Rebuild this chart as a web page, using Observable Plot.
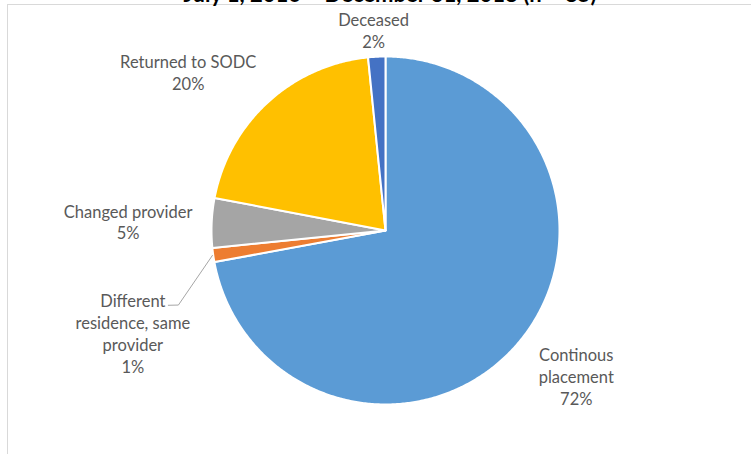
<!DOCTYPE html>
<html>
<head>
<meta charset="utf-8">
<script src="https://cdn.jsdelivr.net/npm/d3@7"></script>
<script src="https://cdn.jsdelivr.net/npm/@observablehq/plot@0.6"></script>
<style>
  html, body { margin: 0; padding: 0; background: #fff; }
  #wrap { position: relative; width: 751px; height: 454px; overflow: hidden; background: #fff; }
  #title { position: absolute; left: 0; width: 780px; top: -18px; text-align: center;
           font: bold 22px Lato, sans-serif; line-height: 24px; color: #000; white-space: nowrap; z-index: 2; }
  #frame { position: absolute; left: 7px; top: 4px; width: 760px; height: 460px;
           border-left: 1px solid #d9d9d9; border-top: 1px solid #d9d9d9; pointer-events: none; z-index: 1; }
  #chart { position: absolute; left: 0; top: 0; }
</style>
</head>
<body>
<div id="wrap">
  <div id="chart"></div>
  <div id="frame"></div>
  <div id="title">July 1, 2016 – December 31, 2018 (n = 85)</div>
</div>
<script>
// ---- data ----
const categories = ["Continous placement", "Different residence, same provider", "Changed provider", "Returned to SODC", "Deceased"];
const values = [72.1, 1.3, 4.6, 20.4, 1.6];
const labelNames = ["Continous\nplacement", "Different\nresidence, same\nprovider", "Changed provider", "Returned to SODC", "Deceased"];
const pctLabels = ["72%", "1%", "5%", "20%", "2%"];
const colors = ["#5B9BD5", "#ED7D31", "#A5A5A5", "#FFC000", "#4472C4"];

// ---- layout ----
const W = 751, H = 454, CX = 385, CY = 230, R = 174;
// label anchors in polar pie units: [angle deg clockwise from top, radius factor]
const labelPolar = [[127.4, 1.38], [248, 1.566], [272, 1.48], [308.8, 1.455], [356.6, 1.155]];
const leaderPolar = [[251, 1.32], [250.2, 1.265], [261.8, 1.005]];

const polar = ([deg, r]) => ({x: r * Math.sin(deg * Math.PI / 180), y: r * Math.cos(deg * Math.PI / 180)});

const total = d3.sum(values);
let cum = 0;
const pts = values.flatMap((c, i) => {
  const a0 = cum / total * 2 * Math.PI; cum += c; const a1 = cum / total * 2 * Math.PI;
  const n = Math.max(2, Math.ceil((a1 - a0) / (Math.PI / 360)));
  const arr = [{cat: categories[i], x: 0, y: 0}];
  for (let k = 0; k <= n; k++) {
    const a = a0 + (a1 - a0) * k / n;
    arr.push({cat: categories[i], x: Math.sin(a), y: Math.cos(a)});
  }
  return arr;
});

const labels = categories.map((c, i) => ({...polar(labelPolar[i]), text: labelNames[i] + "\n" + pctLabels[i]}));
const leader = leaderPolar.map(polar);

const chart = Plot.plot({
  width: W, height: H, margin: 0,
  style: {background: "transparent"},
  x: {domain: [-CX / R, (W - CX) / R], range: [0, W], axis: null},
  y: {domain: [(CY - H) / R, CY / R], range: [H, 0], axis: null},
  color: {domain: categories, range: colors},
  marks: [
    Plot.line(pts, {x: "x", y: "y", z: "cat", fill: "cat", stroke: "white", strokeWidth: 2, curve: "linear-closed"}),
    Plot.line(leader, {x: "x", y: "y", stroke: "#a6a6a6", strokeWidth: 1, curve: "linear"}),
    Plot.text(labels, {x: "x", y: "y", text: "text", fill: "#595959", fontSize: 16.5, lineHeight: 1.33,
      fontFamily: "Lato, sans-serif", lineAnchor: "middle", textAnchor: "middle"})
  ]
});
document.getElementById("chart").appendChild(chart);
</script>
</body>
</html>
